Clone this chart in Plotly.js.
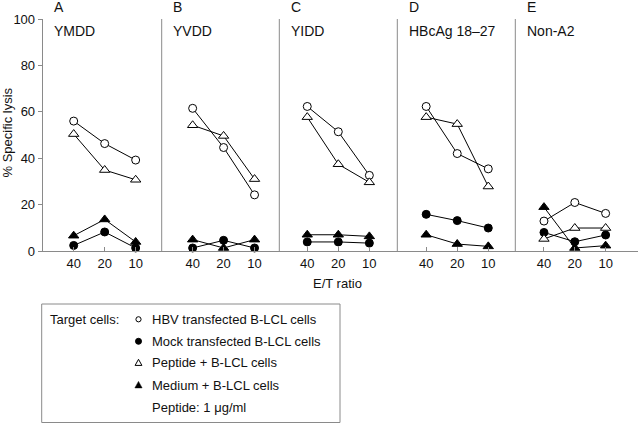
<!DOCTYPE html>
<html>
<head>
<meta charset="utf-8">
<script src="https://cdn.plot.ly/plotly-3.0.1.min.js"></script>
<style>html,body{margin:0;padding:0;background:#fff;}#chart{width:640px;height:423px;}</style>
</head>
<body>
<div id="chart"></div>
<script>
// ---- data ----
const ratios = ['40', '20', '10'];
const panelLetters = ['A', 'B', 'C', 'D', 'E'];
const panelNames = ['YMDD', 'YVDD', 'YIDD', 'HBcAg 18–27', 'Non-A2'];
const hbvTransfected = [[56, 46.3, 39.2], [61.5, 44.6, 24.2], [62.3, 51.4, 32.6], [62.3, 42, 35.4], [12.9, 20.9, 16.2]];
const mockTransfected = [[2.4, 8.2, 1.3], [1.3, 4.6, 1.3], [3.9, 3.9, 3.4], [15.8, 13.1, 9.9], [8, 4, 6.9]];
const peptideBLCL = [[50.4, 34.9, 30.7], [54.2, 49.6, 31], [57.7, 37.4, 29.6], [57.7, 54.7, 27.8], [5.2, 9.9, 9.9]];
const mediumBLCL = [[6.6, 13.6, 3.9], [4.9, 1.3, 4.9], [7, 7, 6.3], [7, 3, 2], [18.9, 1.3, 2.3]];
const legendLabels = ['HBV transfected B-LCL cells', 'Mock transfected B-LCL cells', 'Peptide + B-LCL cells', 'Medium + B-LCL cells'];
const legendTitle = 'Target cells:';
const legendNote = 'Peptide: 1 μg/ml';
const yTicks = [0, 20, 40, 60, 80, 100];

// ---- layout geometry ----
const W = 640, H = 423;
const mL = 42, mR = 2, mT = 19, mB = 172;
const pw = W - mL - mR, ph = H - mT - mB;
const px2x = p => (p - mL) / pw;
const py2y = p => (H - mB - p) / ph;
const bounds = [42.7, 161.7, 279.3, 397.3, 515.3, 638];
const ranges = [[-1.0, 2.84], [-1.0, 2.8], [-0.9, 2.9], [-0.93, 2.87], [-0.93, 3.05]];
const FONT = 'Liberation Sans, Arial, sans-serif';
const GRAY = '#8a8a8a';

const series = [
  {vals: hbvTransfected, symbol: 'circle', fill: '#ffffff', size: 8},
  {vals: mockTransfected, symbol: 'circle', fill: '#000000', size: 8},
  {vals: peptideBLCL, symbol: 'triangle-up', fill: '#ffffff', size: 9},
  {vals: mediumBLCL, symbol: 'triangle-up', fill: '#000000', size: 9}
];

const traces = [];
const layout = {
  width: W, height: H,
  margin: {l: mL, r: mR, t: mT, b: mB},
  paper_bgcolor: '#fff', plot_bgcolor: '#fff',
  showlegend: false,
  font: {family: FONT, size: 13, color: '#111'},
  yaxis: {
    range: [0, 100], tickvals: yTicks, ticks: 'outside', ticklen: 4, tickcolor: GRAY,
    showline: true, linecolor: GRAY, linewidth: 1, showgrid: false, zeroline: false,
    tickfont: {size: 13}, fixedrange: true
  },
  shapes: [], annotations: []
};

for (let p = 0; p < 5; p++) {
  const ax = p === 0 ? 'x' : 'x' + (p + 1);
  const axKey = p === 0 ? 'xaxis' : 'xaxis' + (p + 1);
  layout[axKey] = {
    type: 'category', categoryarray: ratios, categoryorder: 'array',
    domain: [px2x(bounds[p]), px2x(bounds[p + 1])],
    range: ranges[p], anchor: 'y',
    ticks: 'inside', ticklen: 4, tickcolor: GRAY,
    showline: true, linecolor: GRAY, linewidth: 1, showgrid: false, zeroline: false,
    tickfont: {size: 13}, fixedrange: true
  };
  series.forEach(s => {
    traces.push({
      type: 'scatter', mode: 'lines+markers', xaxis: ax, yaxis: 'y',
      x: ratios, y: s.vals[p], cliponaxis: false,
      line: {color: '#000', width: 1},
      marker: {symbol: s.symbol, size: s.size, color: s.fill, line: {color: '#000', width: 1}}
    });
  });
  if (p > 0) {
    layout.shapes.push({type: 'line', xref: ax + ' domain', yref: 'y', x0: 0, x1: 0, y0: 0, y1: 100,
      line: {color: GRAY, width: 1}});
  }
  layout.annotations.push({xref: ax + ' domain', yref: 'paper', x: 9.5 / 118, y: py2y(7), xanchor: 'left', yanchor: 'middle',
    text: panelLetters[p], showarrow: false, font: {size: 14}});
  layout.annotations.push({xref: ax + ' domain', yref: 'paper', x: 9.5 / 118, y: py2y(31), xanchor: 'left', yanchor: 'middle',
    text: panelNames[p], showarrow: false, font: {size: 14}});
}

// axis titles
layout.annotations.push({xref: 'paper', yref: 'paper', x: px2x(6.5), y: py2y(133), textangle: -90,
  xanchor: 'center', yanchor: 'middle', text: '% Specific lysis', showarrow: false, font: {size: 13}});
layout.annotations.push({xref: 'paper', yref: 'paper', x: px2x(337), y: py2y(283),
  xanchor: 'center', yanchor: 'middle', text: 'E/T ratio', showarrow: false, font: {size: 13}});

// legend box
layout.shapes.push({type: 'rect', xref: 'paper', yref: 'paper', x0: px2x(41.7), x1: px2x(340), y0: py2y(304), y1: py2y(422.5),
  line: {color: GRAY, width: 1}, fillcolor: 'rgba(0,0,0,0)'});
const rowY = [319.3, 341.3, 362.7, 385, 407.3];
const symX = 138.5;
layout.annotations.push({xref: 'paper', yref: 'paper', x: px2x(48), y: py2y(rowY[0]), xanchor: 'left', yanchor: 'middle',
  text: legendTitle, showarrow: false, font: {size: 13}});
// legend key symbols (drawn as small shapes)
function circleKey(cy, r, filled) {
  return {type: 'circle', xref: 'paper', yref: 'paper',
    x0: px2x(symX - r), x1: px2x(symX + r), y0: py2y(cy + r), y1: py2y(cy - r),
    line: {color: '#000', width: 1}, fillcolor: filled ? '#000' : '#fff'};
}
function triKey(cy, hw, filled) {
  const top = py2y(cy - hw), bot = py2y(cy + hw * 0.8);
  const path = 'M' + px2x(symX - hw) + ',' + bot + ' L' + px2x(symX + hw) + ',' + bot + ' L' + px2x(symX) + ',' + top + ' Z';
  return {type: 'path', xref: 'paper', yref: 'paper', path: path,
    line: {color: '#000', width: filled ? 0.5 : 1}, fillcolor: filled ? '#000' : '#fff'};
}
layout.shapes.push(circleKey(rowY[0], 2.6, false));
layout.shapes.push(circleKey(rowY[1], 3, true));
layout.shapes.push(triKey(rowY[2], 3.4, false));
layout.shapes.push(triKey(rowY[3], 3.6, true));
legendLabels.forEach((lab, i) => {
  layout.annotations.push({xref: 'paper', yref: 'paper', x: px2x(150), y: py2y(rowY[i]), xanchor: 'left', yanchor: 'middle',
    text: lab, showarrow: false, font: {size: 13}});
});
layout.annotations.push({xref: 'paper', yref: 'paper', x: px2x(150), y: py2y(rowY[4]), xanchor: 'left', yanchor: 'middle',
  text: legendNote, showarrow: false, font: {size: 13}});

Plotly.newPlot('chart', traces, layout, {staticPlot: true, displayModeBar: false});
</script>
</body>
</html>
